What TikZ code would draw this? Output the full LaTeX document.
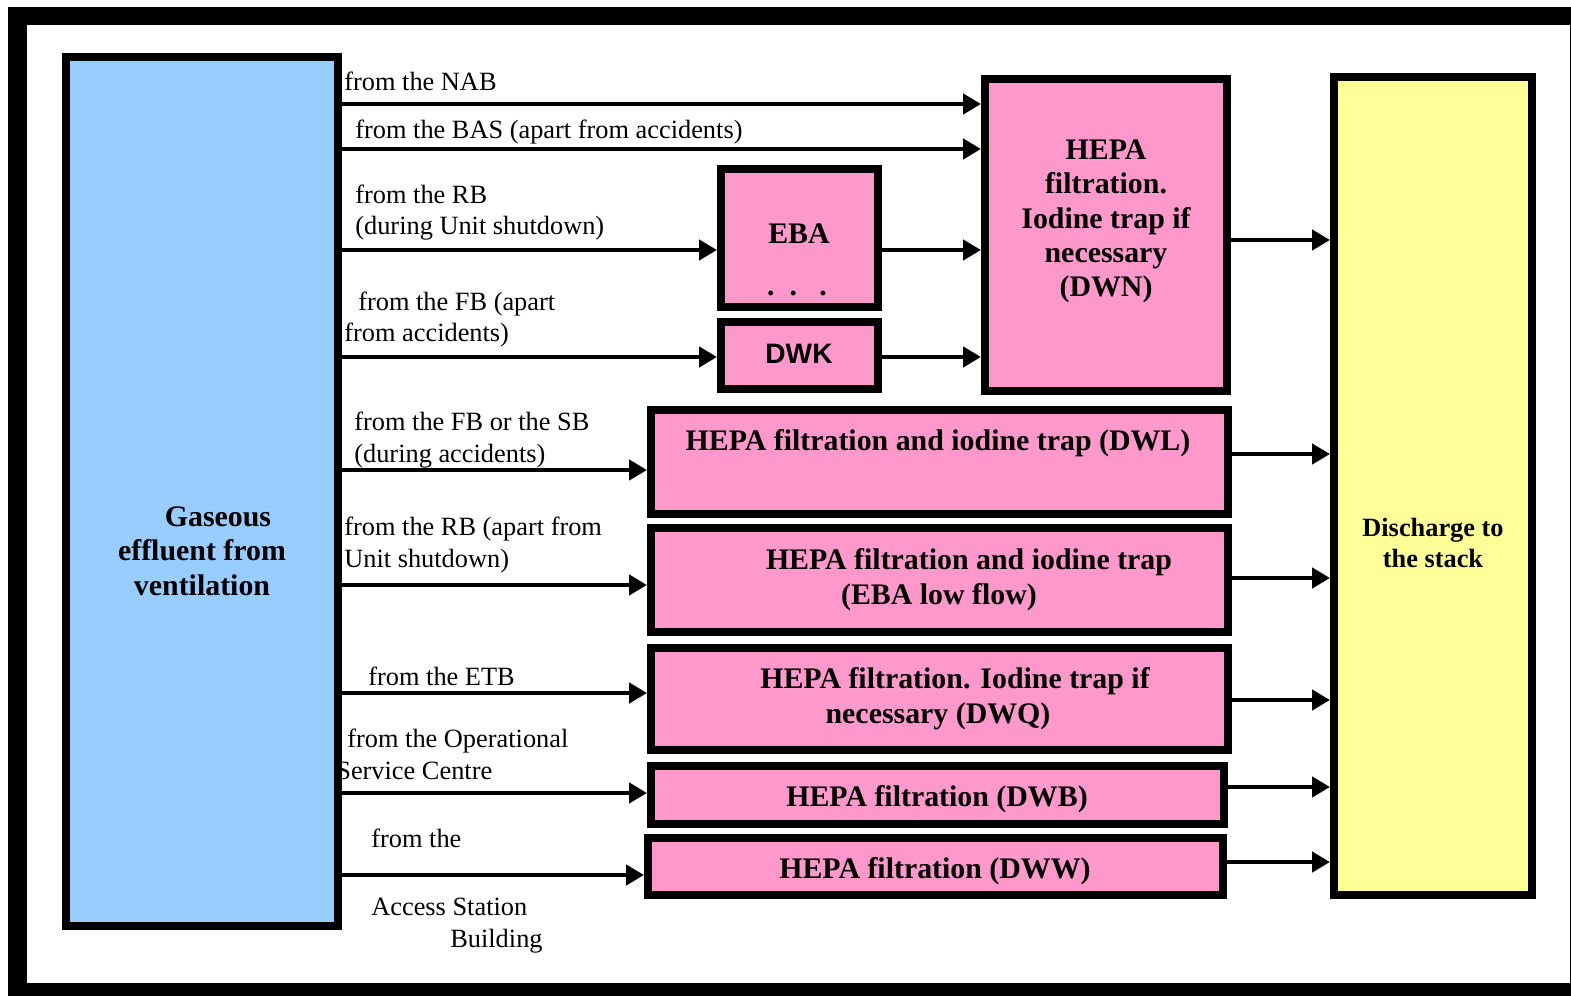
\documentclass[tikz,border=0pt]{standalone}
\usepackage{fontspec}
\setmainfont{Liberation Serif}
\newfontfamily\dwkfont{Liberation Sans}
\usetikzlibrary{arrows.meta,fit}
\definecolor{sky}{RGB}{153,204,255}
\definecolor{rose}{RGB}{255,153,204}
\definecolor{lemon}{RGB}{255,255,153}
\tikzset{
  unit/.style={draw=black,line width=.16cm,inner sep=0pt},
  flow/.style={line width=.09cm,-{Triangle[length=.36cm,width=.4cm]}},
  lbl/.style={anchor=base west,align=left,inner sep=0pt,font=\fontsize{15}{18}\selectfont},
  boxtext/.style={anchor=base,align=center,inner sep=0pt,font=\fontsize{17}{19.6}\selectfont\bfseries}
}

\begin{document}
\begin{tikzpicture}[x=.02cm,y=-.02cm]
\useasboundingbox (0,0) rectangle (1571,996);
\fill[black] (8,7) rectangle (1571,996); \fill[white] (27,25) rectangle (1570,983);
% sources, written before the boxes so the box edge hides part of the S
% (y of a two-line label is the baseline of its last line)
\node[lbl] (nab) at (344,91) {from the NAB};
\node[lbl] (bas) at (355,139) {from the BAS (apart from accidents)};
\node[lbl] (rb1) at (355,235) {from the RB\\(during Unit shutdown)};
\node[lbl] (fb1) at (344,342) {\hspace*{.28cm}from the FB (apart\\from accidents)};
\node[lbl] (fb2) at (354,462) {from the FB or the SB\\(during accidents)};
\node[lbl] (rb2) at (344,567) {from the RB (apart from\\Unit shutdown)};
\node[lbl] (etb) at (368,685) {from the ETB};
\node[lbl] (osc) at (336,779) {\hspace*{.22cm}from the Operational\\Service Centre};
\node[lbl] (asb) at (371,847) {from the};
\node[lbl] (asb2) at (371,947) {Access Station\\\hspace*{1.58cm}Building};
% boxes
\node[unit,fill=sky,fit={(66,57)(338,926)}] (gas) {};
\node[unit,fill=rose,fit={(985,79)(1227,391)}] (dwn) {};
\node[unit,fill=rose,fit={(721,169)(878,307)}] (eba) {};
\node[unit,fill=rose,fit={(721,322)(878,389)}] (dwk) {};
\node[unit,fill=rose,fit={(651,410)(1228,514)}] (dwl) {};
\node[unit,fill=rose,fit={(651,528)(1228,632)}] (ebl) {};
\node[unit,fill=rose,fit={(651,648)(1228,750)}] (dwq) {};
\node[unit,fill=rose,fit={(651,766)(1224,824)}] (dwb) {};
\node[unit,fill=rose,fit={(648,838)(1223,895)}] (dww) {};
\node[unit,fill=lemon,fit={(1334,77)(1532,895)}] (dis) {};
% box texts
\node[boxtext] (gas-t) at (202,595) {\hspace*{.64cm}Gaseous\\effluent from\\ventilation};
\node[boxtext] (dwn-t) at (1106,297) {HEPA\\filtration.\\Iodine trap if\\necessary\\(DWN)};
\node[boxtext] (eba-t) at (799,244) {EBA};
\node[boxtext] (eba-d) at (797,296) {.\ \ .\ \ \ .};
\node[anchor=base,inner sep=0pt,font=\dwkfont\fontsize{16}{19}\selectfont\bfseries] (dwk-t) at (799,364) {DWK};
\node[boxtext] (dwl-t) at (938,451) {HEPA filtration and iodine trap (DWL)};
\node[boxtext] (ebl-t) at (954,604) {\hspace*{.6cm}HEPA filtration and iodine trap\\(EBA low flow)\hspace*{.6cm}};
\node[boxtext] (dwq-t) at (946,723) {\hspace*{.36cm}HEPA filtration. Iodine trap if\\necessary (DWQ)\hspace*{.32cm}};
\node[boxtext] (dwb-t) at (937,806) {HEPA filtration (DWB)};
\node[boxtext] (dww-t) at (935,878) {HEPA filtration (DWW)};
\node[boxtext,font=\fontsize{15}{17.6}\selectfont\bfseries] (dis-t) at (1433,567) {Discharge to\\the stack};
% flows in
\draw[flow] (gas.east |- 0,104) -- (dwn.west |- 0,104);
\draw[flow] (gas.east |- 0,149) -- (dwn.west |- 0,149);
\draw[flow] (gas.east |- 0,250) -- (eba.west |- 0,250);
\draw[flow] (gas.east |- 0,357) -- (dwk.west |- 0,357);
\draw[flow] (eba.east |- 0,250) -- (dwn.west |- 0,250);
\draw[flow] (dwk.east |- 0,357) -- (dwn.west |- 0,357);
\draw[flow] (gas.east |- 0,470) -- (dwl.west |- 0,470);
\draw[flow] (gas.east |- 0,585) -- (ebl.west |- 0,585);
\draw[flow] (gas.east |- 0,693) -- (dwq.west |- 0,693);
\draw[flow] (gas.east |- 0,793) -- (dwb.west |- 0,793);
\draw[flow] (gas.east |- 0,875) -- (dww.west |- 0,875);
% flows out
\draw[flow] (dwn.east |- 0,240) -- (dis.west |- 0,240);
\draw[flow] (dwl.east |- 0,454) -- (dis.west |- 0,454);
\draw[flow] (ebl.east |- 0,578) -- (dis.west |- 0,578);
\draw[flow] (dwq.east |- 0,700) -- (dis.west |- 0,700);
\draw[flow] (dwb.east |- 0,787) -- (dis.west |- 0,787);
\draw[flow] (dww.east |- 0,862) -- (dis.west |- 0,862);
\end{tikzpicture}
\end{document}
